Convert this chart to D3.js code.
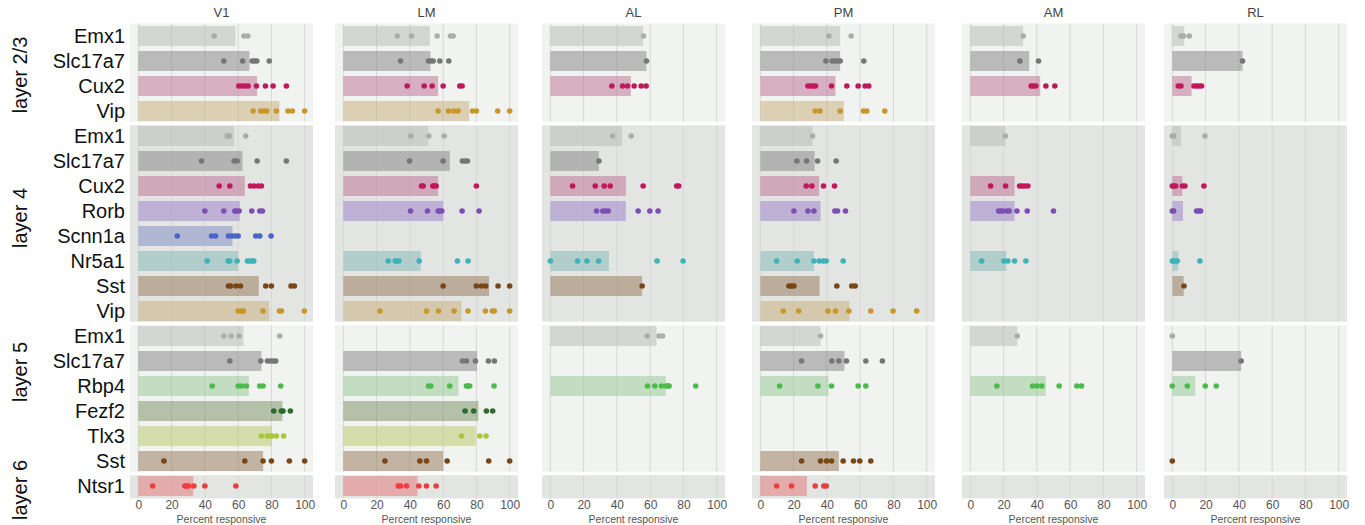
<!DOCTYPE html>
<html>
<head>
<meta charset="utf-8">
<script src="https://cdn.jsdelivr.net/npm/d3@7"></script>
<style>
  body { margin: 0; background: #fff; }
  svg { display: block; font-family: "Liberation Sans", Arial, sans-serif; }
</style>
</head>
<body>
<svg id="chart" width="1365" height="525"></svg>
<script>
// ---- data -------------------------------------------------------------
const areas = ["V1", "LM", "AL", "PM", "AM", "RL"];
const layers = ["layer 2/3", "layer 4", "layer 5", "layer 6"];
const rowLayer = [0, 0, 0, 0, 1, 1, 1, 1, 1, 1, 1, 1, 2, 2, 2, 2, 2, 2, 3];
const rowCre = ["Emx1", "Slc17a7", "Cux2", "Vip",
                "Emx1", "Slc17a7", "Cux2", "Rorb", "Scnn1a", "Nr5a1", "Sst", "Vip",
                "Emx1", "Slc17a7", "Rbp4", "Fezf2", "Tlx3", "Sst",
                "Ntsr1"];
const xTicks = [0, 20, 40, 60, 80, 100];

// mean percent responsive per row (null = no data)
const meanV1 = [58.4, 66.8, 71.4, 84.8, 57.6, 62.6, 64, 61, 56.6, 60, 72.4, 78.8, 63.2, 74, 66.4, 86.6, 80.2, 75, 33];
const meanLM = [52, 52.4, 57, 75.6, 51, 64, 57, 60, null, 46.6, 87.6, 71, null, 80.4, 69.2, 81.2, 79.6, 60, 44.6];
const meanAL = [55.8, 57.8, 48.4, null, 43, 29.2, 45.4, 45.4, null, 35.2, 55.2, null, 63.8, null, 69.4, null, null, null, null];
const meanPM = [48, 48, 45.2, 50.2, 31.4, 32.6, 35.4, 36.2, null, 32.2, 35.6, 53.6, 36.2, 50.6, 41, null, null, 47.2, 28];
const meanAM = [31.8, 35.4, 42, null, 21, null, 26.6, 26.6, null, 21.6, null, null, 28.2, null, 45.4, null, null, null, null];
const meanRL = [7.2, 42.2, 11.6, null, 5.2, null, 6, 6.4, null, 3.6, 6.8, null, 0, 41.4, 13.8, null, null, 0, null];

// individual experiments per row
const ptsV1 = [
  [45.6, 63.5, 65.8],
  [51.4, 62.7, 68.4, 70, 71.2, 78.7],
  [60.4, 62.4, 64.4, 66, 71, 76.4, 81, 89],
  [69, 73.6, 75.5, 77.2, 83, 90, 92.6, 100],
  [53.4, 54.8, 64.6],
  [38, 57.6, 59.4, 71.4, 89],
  [48.6, 55, 67.4, 69.6, 72, 74],
  [40, 51.4, 58, 59, 60.6, 68.2, 73, 74.6],
  [23.4, 44, 46.4, 54.2, 56.2, 58.2, 60, 70.6, 73, 79.8],
  [41.4, 54, 55, 59.4, 65.6, 67, 68.4, 69.4],
  [54.2, 55.4, 58.6, 61.4, 76.6, 80, 91.8, 93.8],
  [60, 62, 63.2, 75, 84.8, 86, 99.8],
  [51.4, 55.8, 60.6, 85],
  [55, 73.6, 77.6, 79.4, 81, 82.6],
  [44.4, 60, 62, 65, 73, 75, 85.6],
  [81.4, 86, 87, 91.4],
  [74, 77.6, 79, 80.4, 83, 87.4],
  [15.4, 64, 75, 80, 90.8, 100],
  [8.6, 28, 29, 30.2, 33.4, 40, 58.6]
];
const ptsLM = [
  [32.4, 41, 56.4, 64.4, 66],
  [34.4, 51.2, 52.6, 54, 58, 63.4],
  [38.4, 48.6, 53.4, 60, 70, 71.4],
  [57, 63.2, 66.4, 69, 77.6, 80, 92.8, 100],
  [40.6, 51.4, 60.6],
  [39.8, 60, 71.6, 73, 74.6],
  [47, 48, 53.8, 54.8, 55.8, 80],
  [40.4, 50.6, 57, 58, 59.2, 71.4, 81.6],
  [],
  [27, 31.2, 32.2, 33.4, 45.6, 68.6, 75],
  [60, 80, 83, 85.6, 93, 100],
  [22, 50, 57.2, 66.6, 75, 85.4, 89.6, 90.8, 100],
  [],
  [71.6, 74, 79.4, 87.2, 90.8],
  [51.2, 52.6, 64, 74, 75, 76, 90.6],
  [73.2, 78.4, 86, 89.8],
  [71, 82, 85.8],
  [25, 46, 50, 62.4, 87.4, 100],
  [33, 34.4, 38, 45.4, 50, 55.8]
];
const ptsAL = [
  [56],
  [57.8],
  [37, 43.4, 46.4, 50.4, 54.6, 57.6],
  [],
  [37.4, 48.6],
  [29.2],
  [13.4, 27, 32.4, 36, 55.8, 76, 77.2],
  [27.8, 31.6, 33.2, 34.8, 52.8, 59.8, 64.8],
  [],
  [0, 16.4, 22, 29, 64.2, 79.8],
  [55.2],
  [],
  [58.2, 65.4, 67.4],
  [],
  [58.4, 62.8, 66.8, 69.6, 70.6, 71.4, 87.4],
  [], [], [], []
];
const ptsPM = [
  [41.2, 54.6],
  [39.4, 43.2, 45, 46.6, 48, 62.2],
  [28.6, 30.2, 31.8, 33.2, 42.8, 52, 58.8, 63, 65.2],
  [33, 35.8, 48, 62, 64, 74.8],
  [31.4],
  [22, 27.8, 34.4, 45.6],
  [27.6, 31, 38, 44.6],
  [20.2, 28.6, 32.2, 44.8, 46.4, 51.2],
  [],
  [9.8, 22.2, 32.2, 35.4, 37.8, 39.6, 49.8],
  [17.2, 18.6, 20.2, 46, 55, 57],
  [13.8, 23, 40.6, 45.2, 53.2, 66.4, 79.8, 94],
  [36.2],
  [24.8, 43, 47.2, 51.8, 63.4, 73.4],
  [11.6, 34.6, 42.8, 58.8, 63.4],
  [], [],
  [24.8, 36.2, 39.8, 42.8, 49.8, 56, 59.8, 66.4],
  [9.8, 18.8, 33, 38.2, 39.6]
];
const ptsAM = [
  [31.8],
  [29.8, 41],
  [36.6, 38, 39.4, 45.4, 50.8],
  [],
  [21],
  [],
  [12.2, 21.2, 29.6, 31, 32.6, 34.6],
  [17, 18.4, 19.6, 22, 23.4, 28, 34.2, 50],
  [],
  [6.8, 20.2, 22.6, 26.6, 33.4],
  [], [],
  [28.2],
  [],
  [16, 37.4, 40, 43, 53.4, 64, 66.8],
  [], [], [], []
];
const ptsRL = [
  [5.2, 6.6, 10.2],
  [42.2],
  [3.6, 5.2, 13, 14.6, 16, 17.6],
  [],
  [0, 0.8, 19.6],
  [],
  [0, 0.8, 2, 6, 7.6, 19],
  [0, 0.8, 14.6, 16, 17],
  [],
  [0, 0.5, 1.6, 3, 16.6],
  [7],
  [],
  [0],
  [41.4],
  [0, 9, 19.8, 26.4],
  [], [],
  [0],
  []
];

const means = [meanV1, meanLM, meanAL, meanPM, meanAM, meanRL];
const points = [ptsV1, ptsLM, ptsAL, ptsPM, ptsAM, ptsRL];

// ---- styling ------------------------------------------------------------
const dotColor = {
  Emx1: "#acacac", Slc17a7: "#767676", Cux2: "#c0185c", Vip: "#c9962c",
  Rorb: "#7c4fb2", Scnn1a: "#4a64c8", Nr5a1: "#3cb3bb", Sst: "#7a4616",
  Rbp4: "#4cbb4c", Fezf2: "#2e6b2e", Tlx3: "#a8c83c", Ntsr1: "#f03c3c"
};
const barColor = {
  Emx1: "#bbbdbb", Slc17a7: "#8a8a8a", Cux2: "#bf7899", Vip: "#cab281",
  Rorb: "#a387cb", Scnn1a: "#8691c7", Nr5a1: "#89baba", Sst: "#9b7e61",
  Rbp4: "#9dca9d", Fezf2: "#81976b", Tlx3: "#bdca6f", Ntsr1: "#e47b7f"
};
const layerBg = ["#f1f3f1", "#e3e5e3", "#f1f3f1", "#e3e5e3"];
const layerLabelY = [75, 218, 372, 490];

// ---- layout -------------------------------------------------------------
const panelLeft = [130, 335, 542, 752, 962, 1164];
const panelW = 183;
const plotTop = 23.5, plotBottom = 498.5;

const svg = d3.select("#chart");

const y = d3.scaleBand()
  .domain(d3.range(rowCre.length))
  .range([plotTop, plotBottom])
  .paddingInner(0.2)
  .paddingOuter(0.1);
const step = y.step();

// groups of rows per layer
const groups = layers.map((name, li) => {
  const rows = rowLayer.map((l, i) => l === li ? i : -1).filter(i => i >= 0);
  return { name, li, first: rows[0], last: rows[rows.length - 1] };
});
const rowTop = i => y(i) - (step - y.bandwidth()) / 2;

// row labels
svg.append("g").selectAll("text")
  .data(rowCre)
  .join("text")
  .attr("x", 125)
  .attr("y", (d, i) => y(i) + y.bandwidth() / 2)
  .attr("dy", "0.36em")
  .attr("text-anchor", "end")
  .attr("font-size", 20)
  .attr("fill", "#111")
  .text(d => d);

// layer labels
svg.append("g").selectAll("text")
  .data(groups)
  .join("text")
  .attr("transform", g => `translate(27,${layerLabelY[g.li]}) rotate(-90)`)
  .attr("text-anchor", "middle")
  .attr("font-size", 20)
  .attr("fill", "#111")
  .text(g => g.name);

areas.forEach((area, ai) => {
  const x = d3.scaleLinear()
    .domain([-5, 105])
    .range([panelLeft[ai], panelLeft[ai] + panelW]);
  const g = svg.append("g");

  // layer backgrounds
  g.selectAll("rect.bg")
    .data(groups)
    .join("rect")
    .attr("class", "bg")
    .attr("x", panelLeft[ai])
    .attr("width", panelW)
    .attr("y", d => rowTop(d.first))
    .attr("height", d => (d.last - d.first + 1) * step)
    .attr("fill", d => layerBg[d.li]);

  // vertical grid
  g.selectAll("line.grid")
    .data(xTicks)
    .join("line")
    .attr("class", "grid")
    .attr("x1", d => x(d)).attr("x2", d => x(d))
    .attr("y1", plotTop).attr("y2", plotBottom)
    .attr("stroke", "#d6d8d6")
    .attr("stroke-width", 1);

  // bars
  const mv = means[ai];
  g.selectAll("rect.bar")
    .data(rowCre.map((cre, i) => ({ cre, i, v: mv[i] })).filter(d => d.v !== null))
    .join("rect")
    .attr("class", "bar")
    .attr("x", x(0))
    .attr("y", d => y(d.i))
    .attr("width", d => x(d.v) - x(0))
    .attr("height", y.bandwidth())
    .attr("fill", d => barColor[d.cre])
    .attr("fill-opacity", 0.55);

  // layer separators
  g.selectAll("line.sep")
    .data(groups.slice(1))
    .join("line")
    .attr("class", "sep")
    .attr("x1", panelLeft[ai]).attr("x2", panelLeft[ai] + panelW)
    .attr("y1", d => rowTop(d.first)).attr("y2", d => rowTop(d.first))
    .attr("stroke", "#fff")
    .attr("stroke-width", 3.5);

  // experiment points
  const pv = points[ai];
  const dots = [];
  pv.forEach((arr, i) => arr.forEach(v => dots.push({ i, v, cre: rowCre[i] })));
  g.selectAll("circle")
    .data(dots)
    .join("circle")
    .attr("cx", d => x(d.v))
    .attr("cy", d => y(d.i) + y.bandwidth() / 2)
    .attr("r", 2.8)
    .attr("fill", d => dotColor[d.cre]);

  // x axis
  const axis = g.append("g")
    .attr("transform", `translate(0,${plotBottom})`)
    .call(d3.axisBottom(x).tickValues(xTicks).tickSize(0).tickPadding(1.5));
  axis.select(".domain").remove();
  axis.selectAll("text")
    .attr("font-size", 12)
    .attr("fill", "#555")
    .attr("font-family", "Liberation Sans, Arial, sans-serif");

  g.append("text")
    .attr("x", x(50))
    .attr("y", 523)
    .attr("text-anchor", "middle")
    .attr("font-size", 10.5)
    .attr("fill", "#555")
    .text("Percent responsive");

  // panel title
  g.append("text")
    .attr("x", x(50))
    .attr("y", 17)
    .attr("text-anchor", "middle")
    .attr("font-size", 13)
    .attr("fill", "#444")
    .text(area);
});
</script>
</body>
</html>
